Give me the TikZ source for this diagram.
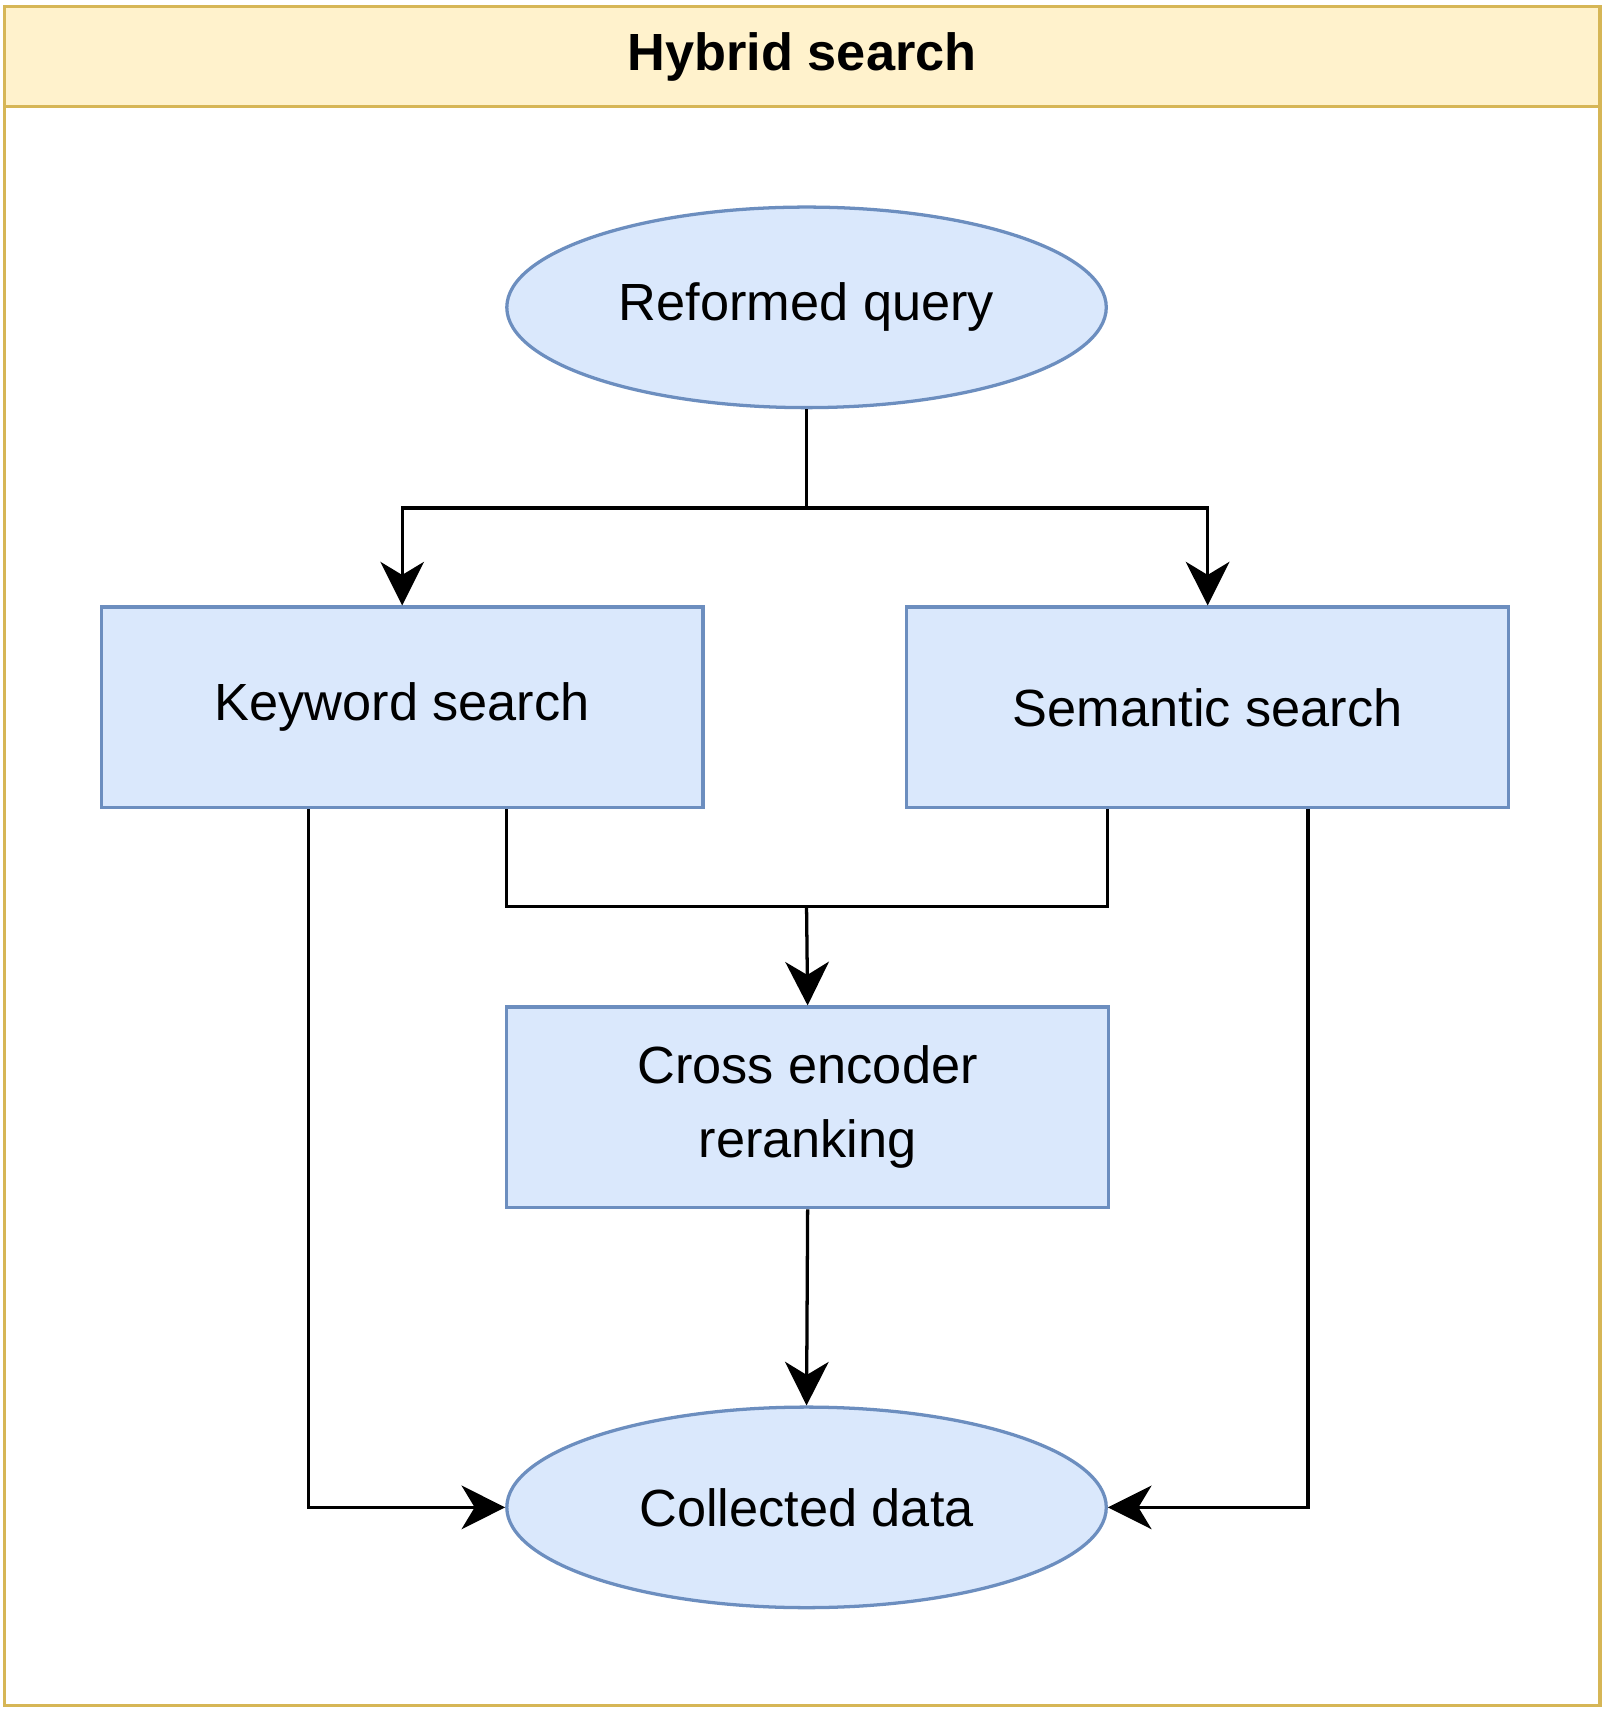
\documentclass[tikz,border=0pt]{standalone}
\usepackage{fontspec}
\setmainfont{Liberation Sans}
\usetikzlibrary{shapes.geometric,arrows.meta}
\definecolor{hdrfill}{HTML}{FFF2CC}
\definecolor{hdrline}{HTML}{D6B656}
\definecolor{bfill}{HTML}{DAE8FC}
\definecolor{bline}{HTML}{6C8EBF}
\begin{document}
\begin{tikzpicture}[x=1pt,y=-1pt,
  box/.style={draw=bline,fill=bfill,line width=3pt,minimum width=552pt,minimum height=184pt,inner sep=0pt,align=center,font=\fontsize{48}{68}\selectfont},
  ell/.style={ellipse,draw=bline,fill=bfill,line width=3pt,minimum width=550pt,minimum height=184pt,inner sep=0pt,font=\fontsize{48}{58}\selectfont},
  conn/.style={line width=3pt},
  arr/.style={conn,-{Stealth[length=40pt,width=40pt,inset=12pt]}}]
\useasboundingbox (0,0) rectangle (1471,1568);
\draw[hdrline,line width=3pt,fill=white] (4,6) rectangle (1468,1565);
\draw[hdrline,line width=3pt,fill=hdrfill] (4,6) rectangle (1468,98);
\node[font=\bfseries\fontsize{48}{58}\selectfont] (title) at (736,52) {Hybrid search};
\node[ell] (q) at (740,282) {Reformed query};
\node[box] (k) at (369,649) {Keyword search};
\node[box] (s) at (1108,649) {Semantic search};
\node[box] (c) at (741,1016) {Cross encoder\\reranking};
\node[ell] (d) at (740,1383) {Collected data};
\coordinate (j1) at (740,466);
\coordinate (j2) at (740,832);
\draw[conn] (q.south) -- (j1);
\draw[arr] (j1) -| (k.north);
\draw[arr] (j1) -| (s.north);
\draw[conn] (k.south -| 465,0) |- (j2);
\draw[conn] (s.south -| 1016,0) |- (j2);
\draw[arr] (j2) -- (c.north);
\draw[arr] (c.south) -- (d.north);
\draw[arr] (k.south -| 283,0) |- (d.west);
\draw[arr] (s.south -| 1200,0) |- (d.east);
\end{tikzpicture}
\end{document}
